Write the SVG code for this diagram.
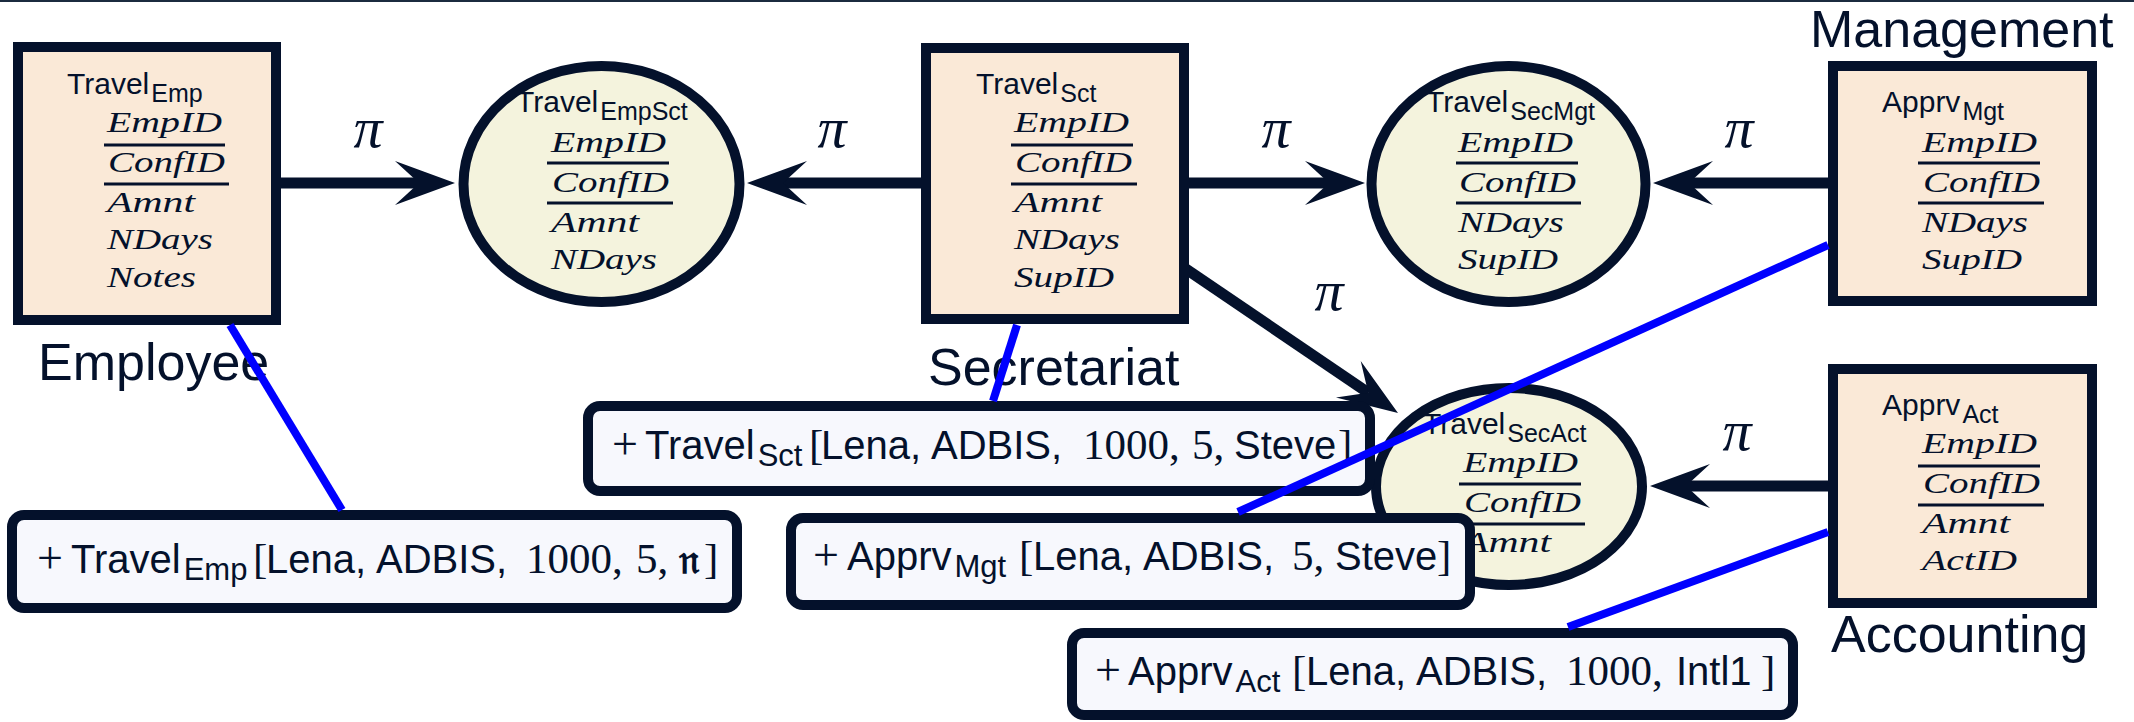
<svg xmlns="http://www.w3.org/2000/svg" width="2134" height="722" viewBox="0 0 2134 722">
<style>
.nb{fill:#FAE9D7;stroke:#04112B;stroke-width:10}
.ne{fill:#F4F3DD;stroke:#04112B;stroke-width:10}
.lb{fill:#F7F8FD;stroke:#04112B;stroke-width:10}
.t{font-family:"Liberation Sans",Arial,sans-serif;font-size:30px;fill:#04112B}
.s{font-size:25px}
.a{font-family:"Liberation Serif","Times New Roman",serif;font-style:italic;font-size:30px;fill:#04112B}
.ul{stroke:#04112B;stroke-width:3}
.g{font-family:"Liberation Sans",Arial,sans-serif;font-size:52px;fill:#04112B}
.pi{font-family:"Liberation Serif",serif;font-style:italic;font-size:58px;fill:#04112B;text-anchor:middle}
.c{stroke:#04112B;stroke-width:11;fill:none}
.bl{stroke:#0000FF;stroke-width:8}
.lt{font-family:"Liberation Sans",Arial,sans-serif;font-size:40px;fill:#04112B}
.ls{font-size:31px}
.lm{font-family:"Liberation Serif",serif;font-size:43px}
.lp{font-family:"Liberation Serif",serif;font-size:46px}
.fr{font-family:"DejaVu Serif","DejaVu Sans","Noto Sans",serif;font-weight:bold;font-size:40px}
</style>
<defs>
<marker id="arr" markerUnits="userSpaceOnUse" orient="auto" refX="0" refY="0" markerWidth="80" markerHeight="60" viewBox="-30 -30 70 60" overflow="visible">
<path d="M36,0 L-24,-22 L0,0 L-24,22 Z" fill="#04112B"/>
</marker>
</defs>
<rect x="0" y="0" width="2134" height="2" fill="#1B2B3F"/>

<g id="connectors">
<path class="c" d="M276,183 H419" marker-end="url(#arr)"/>
<path class="c" d="M926,183 H783" marker-end="url(#arr)"/>
<path class="c" d="M1184,183 H1329" marker-end="url(#arr)"/>
<path class="c" d="M1833,183 H1689" marker-end="url(#arr)"/>
<path class="c" d="M1833,486 H1686" marker-end="url(#arr)"/>
<path class="c" d="M1186,269 L1368.2,392.8" marker-end="url(#arr)"/>
<text class="pi" x="368" y="147">π</text>
<text class="pi" x="832" y="147">π</text>
<text class="pi" x="1276" y="147">π</text>
<text class="pi" x="1739" y="147">π</text>
<text class="pi" x="1737" y="450">π</text>
<text class="pi" x="1329" y="310">π</text>
</g>

<g id="travel-emp">
<rect class="nb" x="18" y="47" width="258" height="273"/>
<text class="t" x="67" y="94">Travel<tspan class="s" dx="2" y="102">Emp</tspan></text>
<text class="a" x="107" y="132" textLength="115" lengthAdjust="spacingAndGlyphs">EmpID</text>
<line class="ul" x1="104" y1="145" x2="225" y2="145"/>
<text class="a" x="108" y="172" textLength="117" lengthAdjust="spacingAndGlyphs">ConfID</text>
<line class="ul" x1="104" y1="184" x2="229" y2="184"/>
<text class="a" x="107" y="212" textLength="88" lengthAdjust="spacingAndGlyphs">Amnt</text>
<text class="a" x="107" y="249" textLength="106" lengthAdjust="spacingAndGlyphs">NDays</text>
<text class="a" x="107" y="287" textLength="89" lengthAdjust="spacingAndGlyphs">Notes</text>
</g>

<g id="travel-empsct">
<ellipse class="ne" cx="601.5" cy="184" rx="138" ry="118"/>
<text class="t" x="516" y="112">Travel<tspan class="s" dx="2" y="120">EmpSct</tspan></text>
<text class="a" x="551" y="152" textLength="115" lengthAdjust="spacingAndGlyphs">EmpID</text>
<line class="ul" x1="547" y1="163" x2="669" y2="163"/>
<text class="a" x="552" y="192" textLength="117" lengthAdjust="spacingAndGlyphs">ConfID</text>
<line class="ul" x1="547" y1="203" x2="673" y2="203"/>
<text class="a" x="551" y="232" textLength="88" lengthAdjust="spacingAndGlyphs">Amnt</text>
<text class="a" x="551" y="269" textLength="106" lengthAdjust="spacingAndGlyphs">NDays</text>
</g>

<g id="travel-sct">
<rect class="nb" x="926" y="48" width="258" height="271"/>
<text class="t" x="976" y="94">Travel<tspan class="s" dx="2" y="102">Sct</tspan></text>
<text class="a" x="1014" y="132" textLength="115" lengthAdjust="spacingAndGlyphs">EmpID</text>
<line class="ul" x1="1011" y1="145" x2="1133" y2="145"/>
<text class="a" x="1015" y="172" textLength="117" lengthAdjust="spacingAndGlyphs">ConfID</text>
<line class="ul" x1="1011" y1="184" x2="1137" y2="184"/>
<text class="a" x="1014" y="212" textLength="88" lengthAdjust="spacingAndGlyphs">Amnt</text>
<text class="a" x="1014" y="249" textLength="106" lengthAdjust="spacingAndGlyphs">NDays</text>
<text class="a" x="1014" y="287" textLength="100" lengthAdjust="spacingAndGlyphs">SupID</text>
</g>

<g id="travel-secmgt">
<ellipse class="ne" cx="1508.5" cy="184" rx="137" ry="118"/>
<text class="t" x="1426" y="112">Travel<tspan class="s" dx="2" y="120">SecMgt</tspan></text>
<text class="a" x="1458" y="152" textLength="115" lengthAdjust="spacingAndGlyphs">EmpID</text>
<line class="ul" x1="1456" y1="163" x2="1578" y2="163"/>
<text class="a" x="1459" y="192" textLength="117" lengthAdjust="spacingAndGlyphs">ConfID</text>
<line class="ul" x1="1456" y1="203" x2="1581" y2="203"/>
<text class="a" x="1458" y="232" textLength="106" lengthAdjust="spacingAndGlyphs">NDays</text>
<text class="a" x="1458" y="269" textLength="100" lengthAdjust="spacingAndGlyphs">SupID</text>
</g>

<g id="apprv-mgt">
<rect class="nb" x="1833" y="66" width="259" height="235"/>
<text class="t" x="1882" y="112">Apprv<tspan class="s" dx="2" y="120">Mgt</tspan></text>
<text class="a" x="1922" y="152" textLength="115" lengthAdjust="spacingAndGlyphs">EmpID</text>
<line class="ul" x1="1918" y1="163" x2="2040" y2="163"/>
<text class="a" x="1923" y="192" textLength="117" lengthAdjust="spacingAndGlyphs">ConfID</text>
<line class="ul" x1="1918" y1="203" x2="2044" y2="203"/>
<text class="a" x="1922" y="232" textLength="106" lengthAdjust="spacingAndGlyphs">NDays</text>
<text class="a" x="1922" y="269" textLength="100" lengthAdjust="spacingAndGlyphs">SupID</text>
</g>

<g id="travel-secact">
<ellipse class="ne" cx="1509" cy="486.5" rx="133" ry="98.5"/>
<text class="t" x="1423" y="434">Travel<tspan class="s" dx="2" y="442">SecAct</tspan></text>
<text class="a" x="1463" y="472" textLength="115" lengthAdjust="spacingAndGlyphs">EmpID</text>
<line class="ul" x1="1459" y1="484" x2="1581" y2="484"/>
<text class="a" x="1464" y="512" textLength="117" lengthAdjust="spacingAndGlyphs">ConfID</text>
<line class="ul" x1="1459" y1="524" x2="1585" y2="524"/>
<text class="a" x="1463" y="552" textLength="88" lengthAdjust="spacingAndGlyphs">Amnt</text>
</g>

<g id="apprv-act">
<rect class="nb" x="1833" y="369" width="259" height="234"/>
<text class="t" x="1882" y="415">Apprv<tspan class="s" dx="2" y="423">Act</tspan></text>
<text class="a" x="1922" y="453" textLength="115" lengthAdjust="spacingAndGlyphs">EmpID</text>
<line class="ul" x1="1918" y1="466" x2="2040" y2="466"/>
<text class="a" x="1923" y="493" textLength="117" lengthAdjust="spacingAndGlyphs">ConfID</text>
<line class="ul" x1="1918" y1="505" x2="2044" y2="505"/>
<text class="a" x="1922" y="533" textLength="88" lengthAdjust="spacingAndGlyphs">Amnt</text>
<text class="a" x="1922" y="570" textLength="95" lengthAdjust="spacingAndGlyphs">ActID</text>
</g>

<g id="group-labels">
<text class="g" x="38" y="380">Employee</text>
<text class="g" x="928" y="385">Secretariat</text>
<text class="g" x="1810" y="47">Management</text>
<text class="g" x="1831" y="652">Accounting</text>
</g>

<g id="label-travel-emp">
<rect class="lb" x="12" y="515" width="725" height="93" rx="12"/>
<text class="lt" y="573"><tspan class="lp" x="37">+</tspan><tspan x="71">Travel</tspan><tspan class="ls" dx="3" y="580">Emp</tspan><tspan class="lm" x="253" y="573">[</tspan><tspan x="266">Lena,</tspan><tspan x="376">ADBIS,</tspan><tspan class="lm" x="526">1000,</tspan><tspan class="lm" x="636">5,</tspan><tspan class="fr" x="679">𝔫</tspan><tspan class="lm" x="704">]</tspan></text>
</g>

<g id="label-travel-sct">
<rect class="lb" x="588" y="406" width="782" height="85" rx="12"/>
<text class="lt" y="459"><tspan class="lp" x="612">+</tspan><tspan x="645">Travel</tspan><tspan class="ls" dx="3" y="466">Sct</tspan><tspan class="lm" x="809" y="459">[</tspan><tspan x="821">Lena,</tspan><tspan x="931">ADBIS,</tspan><tspan class="lm" x="1083">1000,</tspan><tspan class="lm" x="1192">5,</tspan><tspan x="1234">Steve</tspan><tspan class="lm" x="1338">]</tspan></text>
</g>

<g id="label-apprv-mgt">
<rect class="lb" x="791" y="518" width="679" height="87" rx="12"/>
<text class="lt" y="570"><tspan class="lp" x="813">+</tspan><tspan x="847">Apprv</tspan><tspan class="ls" dx="3" y="577">Mgt</tspan><tspan class="lm" x="1019" y="570">[</tspan><tspan x="1033">Lena,</tspan><tspan x="1143">ADBIS,</tspan><tspan class="lm" x="1292">5,</tspan><tspan x="1335">Steve</tspan><tspan class="lm" x="1437">]</tspan></text>
</g>

<g id="label-apprv-act">
<rect class="lb" x="1072" y="633" width="721" height="82" rx="12"/>
<text class="lt" y="685"><tspan class="lp" x="1095">+</tspan><tspan x="1128">Apprv</tspan><tspan class="ls" dx="3" y="692">Act</tspan><tspan class="lm" x="1292" y="685">[</tspan><tspan x="1306">Lena,</tspan><tspan x="1416">ADBIS,</tspan><tspan class="lm" x="1566">1000,</tspan><tspan x="1676">Intl1</tspan><tspan class="lm" x="1761">]</tspan></text>
</g>

<g id="annotation-links">
<line class="bl" x1="230" y1="325" x2="342" y2="510"/>
<line class="bl" x1="1017" y1="325" x2="993" y2="401"/>
<line class="bl" x1="1828" y1="245" x2="1238" y2="512"/>
<line class="bl" x1="1828" y1="532" x2="1568" y2="627"/>
</g>
</svg>
